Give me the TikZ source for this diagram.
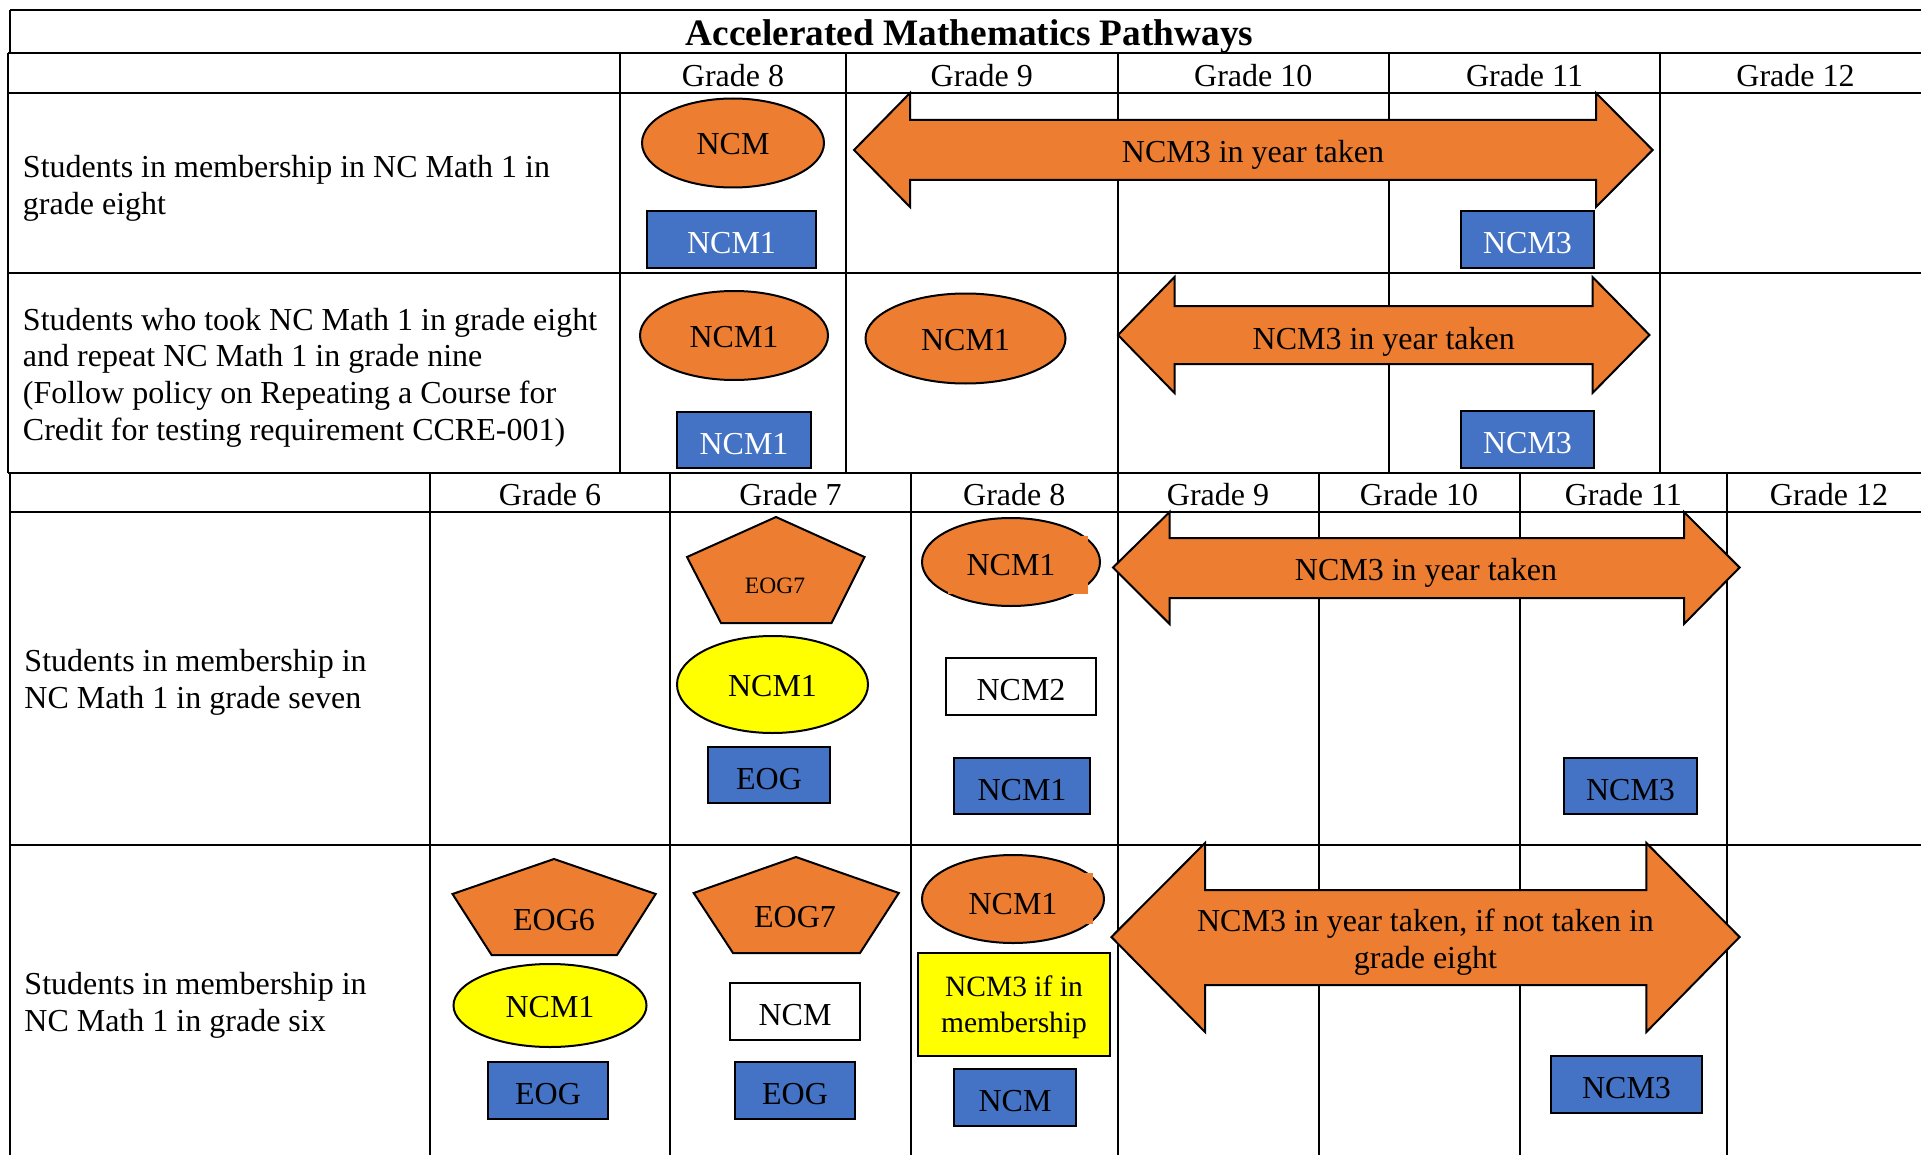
\documentclass[tikz,border=0pt]{standalone}
\usepackage{fontspec}
\setmainfont{Liberation Serif}
\usetikzlibrary{shapes.geometric}
\definecolor{orangeC}{HTML}{ED7D31}
\definecolor{blueC}{HTML}{4472C4}
\definecolor{yellowC}{HTML}{FFFF00}
\newcommand\rectnode[7]{\node[#2, minimum width={(#5-#3)*0.5pt}, minimum height={(#6-#4)*0.5pt}] (#1) at ({(#3+#5)/2},{(#4+#6)/2}) {#7};}
\newcommand\ellnode[7]{\node[#2, minimum width={#5*0.5pt}, minimum height={#6*0.5pt}] (#1) at (#3,#4) {#7};}
\newcommand\dblarrow[8]{% tipL backL backR tipR tipy headtop shafttop headbot
  \filldraw[arrowsty] (#1,#5) -- (#2,#6) -- (#2,#7) -- (#3,#7) -- (#3,#6) -- (#4,#5) -- (#3,#8) -- (#3,{#8+(#7-#6)*-1}) -- (#2,{#8+(#7-#6)*-1}) -- (#2,#8) -- cycle;}
\begin{document}
\begin{tikzpicture}[x=0.5pt,y=-0.5pt,
  every node/.style={font=\fontsize{16}{18.35}\selectfont, inner sep=0pt, outer sep=0pt},
  gridline/.style={line width=1pt, black},
  thickline/.style={line width=1.15pt, black},
  elltext/.style={text height=11.8pt, text depth=0pt},
  boxtext/.style={text height=14.2pt, text depth=0pt},
  orangeell/.style={ellipse, draw=black, line width=1pt, fill=orangeC, elltext},
  yellowell/.style={ellipse, draw=black, line width=1pt, fill=yellowC, elltext},
  blueW/.style={rectangle, draw=black, line width=1.2pt, fill=blueC, text=white, boxtext},
  blueK/.style={rectangle, draw=black, line width=1.2pt, fill=blueC, text=black, boxtext},
  whitebox/.style={rectangle, draw=black, line width=1.2pt, fill=white, boxtext},
  yellowbox/.style={rectangle, draw=black, line width=1.2pt, fill=yellowC, align=center, font=\fontsize{14.75}{18}\selectfont},
  pentsty/.style={draw=black, line width=1pt, fill=orangeC, line join=miter},
  arrowsty/.style={draw=black, line width=1pt, fill=orangeC, line join=miter},
  label/.style={anchor=west, align=left},
  hdr/.style={anchor=base},
]
\useasboundingbox (0,0) rectangle (1921,1155);
\clip (0,0) rectangle (1921,1155);
\fill[white] (0,0) rectangle (1921,1155);

% ---------- table 1 ----------
\draw[thickline] (10,10) -- (1935,10);
\draw[gridline] (10,10) -- (10,53);
\foreach \yy in {53,93,273,473} \draw[thickline] (8,\yy) -- (1935,\yy);
\draw[gridline] (8,53) -- (8,473);
\foreach \xx in {620,846,1117.5,1389,1660} \draw[gridline] (\xx,53) -- (\xx,473);
% ---------- table 2 ----------
\draw[gridline] (10,473) -- (10,1160);
\foreach \yy in {512,845} \draw[thickline] (10,\yy) -- (1935,\yy);
\foreach \xx in {430,670,911,1117.5,1318.5,1519.6,1727} \draw[gridline] (\xx,473) -- (\xx,1160);

% title and headers
\node[hdr, font=\bfseries\fontsize{18.65}{22}\selectfont] (title) at (969.5,45.8) {Accelerated Mathematics Pathways};
\node[hdr] (h1g8) at (733,86.2) {Grade 8};
\node[hdr] (h1g9) at (981.75,86.2) {Grade 9};
\node[hdr] (h1g10) at (1253.25,86.2) {Grade 10};
\node[hdr] (h1g11) at (1524.5,86.2) {Grade 11};
\node[hdr] (h1g12) at (1795.5,86.2) {Grade 12};
\node[hdr] (h2g6) at (550,505.7) {Grade 6};
\node[hdr] (h2g7) at (790.5,505.7) {Grade 7};
\node[hdr] (h2g8) at (1014.25,505.7) {Grade 8};
\node[hdr] (h2g9) at (1218,505.7) {Grade 9};
\node[hdr] (h2g10) at (1419,505.7) {Grade 10};
\node[hdr] (h2g11) at (1623.3,505.7) {Grade 11};
\node[hdr] (h2g12) at (1829,505.7) {Grade 12};

% row labels
\node[label] (lab1) at (23,188.2) {Students in membership in NC Math 1 in\\grade eight};
\node[label] (lab2) at (23,377.4) {Students who took NC Math 1 in grade eight\\and repeat NC Math 1 in grade nine\\(Follow policy on Repeating a Course for\\Credit for testing requirement CCRE-001)};
\node[label] (lab3) at (24.5,682.2) {Students in membership in\\NC Math 1 in grade seven};
\node[label] (lab4) at (24.5,1005.2) {Students in membership in\\NC Math 1 in grade six};

% ---------- row 1 ----------
\ellnode{r1ncm}{orangeell}{733}{143}{182}{89}{NCM}
\rectnode{r1ncm1}{blueW}{647}{211}{816}{268}{NCM1}
\dblarrow{854}{910}{1596}{1652.6}{150}{93}{120}{207}
\node[hdr] (r1arr) at (1253,162.9) {NCM3 in year taken};
\rectnode{r1ncm3}{blueW}{1461}{211}{1594}{268}{NCM3}

% ---------- row 2 ----------
\ellnode{r2ncm1a}{orangeell}{734}{335.5}{188}{89}{NCM1}
\ellnode{r2ncm1b}{orangeell}{965.5}{338.5}{200}{90}{NCM1}
\rectnode{r2ncm1}{blueW}{677}{412}{811}{468}{NCM1}
\dblarrow{1118}{1174.5}{1592.5}{1649.5}{335}{277}{306}{393}
\node[hdr] (r2arr) at (1383.75,349.1) {NCM3 in year taken};
\rectnode{r2ncm3}{blueW}{1461}{411}{1594}{468}{NCM3}

% ---------- row 3 ----------
\filldraw[pentsty] (776,517) -- (864.5,557) -- (831.5,623) -- (721,623) -- (687,557) -- cycle;
\node[font=\fontsize{11.75}{14}\selectfont] (r3eog7) at (775,585.7) {EOG7};
\ellnode{r3ncm1y}{yellowell}{772.5}{684.5}{191}{97}{NCM1}
\rectnode{r3eog}{blueK}{708}{747}{830}{803}{EOG}
\ellnode{r3ncm1o}{orangeell}{1011}{562}{178}{88}{}
\fill[orangeC] (948,536) rectangle (1087.7,594);
\node (r3ncm1t) at (1011,565.5) {NCM1};
\rectnode{r3ncm2}{whitebox}{946}{658}{1096}{715}{NCM2}
\rectnode{r3ncm1b}{blueK}{954}{758}{1090}{814}{NCM1}
\dblarrow{1113}{1169.6}{1684}{1739.6}{567.5}{512}{538}{624}
\node[hdr] (r3arr) at (1426,580.7) {NCM3 in year taken};
\rectnode{r3ncm3}{blueK}{1564}{758}{1697}{814}{NCM3}

% ---------- row 4 ----------
\filldraw[pentsty] (554,859) -- (655.7,894) -- (617,955) -- (491.6,955) -- (452.5,894) -- cycle;
\node (r4eog6) at (554,920.5) {EOG6};
\ellnode{r4ncm1y}{yellowell}{550}{1005.5}{193}{83}{NCM1}
\rectnode{r4eog6b}{blueK}{488}{1062}{608}{1119}{EOG}
\filldraw[pentsty] (796,857) -- (898.8,893) -- (860,953) -- (733,953) -- (693.7,893) -- cycle;
\node (r4eog7) at (795,917.5) {EOG7};
\rectnode{r4ncm}{whitebox}{730}{983}{860}{1040}{NCM}
\rectnode{r4eog7b}{blueK}{735}{1062}{855}{1119}{EOG}
\ellnode{r4ncm1o}{orangeell}{1013}{899}{182}{88}{}
\fill[orangeC] (952,873) rectangle (1092.7,924);
\node (r4ncm1t) at (1013,904) {NCM1};
\rectnode{r4yel}{yellowbox}{918}{953}{1110}{1056}{\rule{0pt}{13.5pt}NCM3 if in\\membership}
\rectnode{r4ncmb}{blueK}{954}{1069}{1076}{1126}{NCM}
\dblarrow{1111.4}{1205}{1646.4}{1739.6}{937}{843}{890}{1032}
\node[align=center] (r4arr) at (1425.5,942.2) {NCM3 in year taken, if not taken in\\grade eight};
\rectnode{r4ncm3}{blueK}{1551}{1056}{1702}{1113}{NCM3}
\end{tikzpicture}
\end{document}
